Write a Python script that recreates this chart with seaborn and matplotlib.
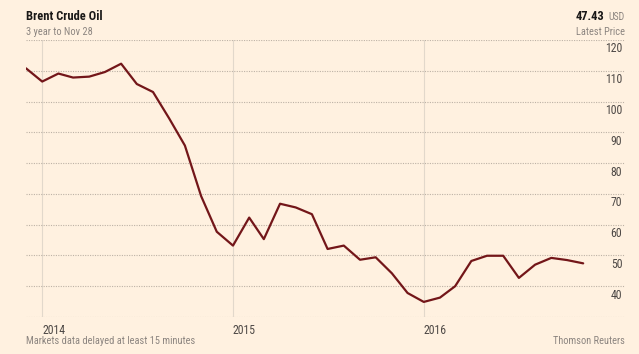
import pandas as pd
import matplotlib.pyplot as plt
import matplotlib.transforms as mtransforms
import seaborn as sns

# monthly Brent closes, Dec 2013 - Nov 2016
months = pd.date_range('2013-12-01', periods=36, freq='MS')
prices = [110.8, 106.5, 109.1, 107.8, 108.1, 109.6, 112.3, 105.7, 103.1, 94.5, 85.7, 69.3,
          57.7, 53.2, 62.3, 55.3, 66.8, 65.6, 63.4, 52.1, 53.2, 48.6, 49.4, 44.2,
          37.8, 34.9, 36.3, 40.0, 48.2, 49.9, 49.9, 42.7, 47.0, 49.2, 48.5, 47.43]
y_ticks = [30, 40, 50, 60, 70, 80, 90, 100, 110, 120]
y_labels = ['', '40', '50', '60', '70', '80', '90', '100', '110', '120']
x_ticks = pd.to_datetime(['2014-01-01', '2015-01-01', '2016-01-01'])
x_labels = ['2014', '2015', '2016']

BG = '#fff1e0'
LINE = '#731619'
GRID = '#bdb2a6'
TXT = '#4d4845'
MUTED = '#8c8580'

sns.set_theme(style='white')
plt.rcParams['font.family'] = ['Roboto Condensed', 'Archivo Narrow', 'DejaVu Sans']

df = pd.DataFrame({'date': months, 'price': prices})

fig = plt.figure(figsize=(6.39, 3.54), dpi=100, facecolor=BG)
W, H = 639, 354
ax = fig.add_axes([26 / W, 1 - 317 / H, (625 - 26) / W, (317 - 40) / H])
ax.set_facecolor(BG)

sns.lineplot(data=df, x='date', y='price', color=LINE, linewidth=1.6, ax=ax)

ax.set_ylim(30, 120)
ax.set_xlim(pd.Timestamp('2013-12-01'), pd.Timestamp('2017-01-20'))
for s in ax.spines.values():
    s.set_visible(False)

# y axis: labels sit inside on the right, just under each gridline
ax.yaxis.tick_right()
ax.set_yticks(y_ticks)
ax.set_yticklabels(y_labels)
ax.tick_params(axis='y', length=0, pad=-2, labelsize=8.5, labelcolor=TXT)
shift = mtransforms.ScaledTranslation(0, -2.5 / 100, fig.dpi_scale_trans)
for lab in ax.get_yticklabels():
    lab.set_ha('right')
    lab.set_va('top')
    lab.set_transform(lab.get_transform() + shift)
ax.yaxis.grid(True, color=GRID, linestyle=(0, (1, 1.2)), linewidth=0.8)

# x axis: year labels left-aligned at the gridline
ax.set_xticks(x_ticks)
ax.set_xticklabels(x_labels)
ax.tick_params(axis='x', length=0, pad=5, labelsize=8.5, labelcolor=TXT)
for lab in ax.get_xticklabels():
    lab.set_ha('left')
ax.xaxis.grid(True, color='#e2d8cb', linestyle='-', linewidth=0.8)
ax.set_xlabel('')
ax.set_ylabel('')

# header
fig.text(26 / W, 1 - 17 / H, 'Brent Crude Oil', fontsize=9, weight='bold', color='#1a1817', va='center')
fig.text(26 / W, 1 - 32 / H, '3 year to Nov 28', fontsize=7.5, color=MUTED, va='center')
fig.text(625 / W, 1 - 17 / H, 'USD', fontsize=7, color=MUTED, va='center', ha='right')
fig.text(604 / W, 1 - 17 / H, '47.43', fontsize=9, weight='bold', color='#1a1817', va='center', ha='right')
fig.text(625 / W, 1 - 32 / H, 'Latest Price', fontsize=7.5, color=MUTED, va='center', ha='right')

# footer
fig.text(26 / W, 1 - 341 / H, 'Markets data delayed at least 15 minutes', fontsize=7.5, color=MUTED, va='center')
fig.text(625 / W, 1 - 341 / H, 'Thomson Reuters', fontsize=7.5, color=MUTED, va='center', ha='right')

fig.savefig('out.png', dpi=100, facecolor=BG)
